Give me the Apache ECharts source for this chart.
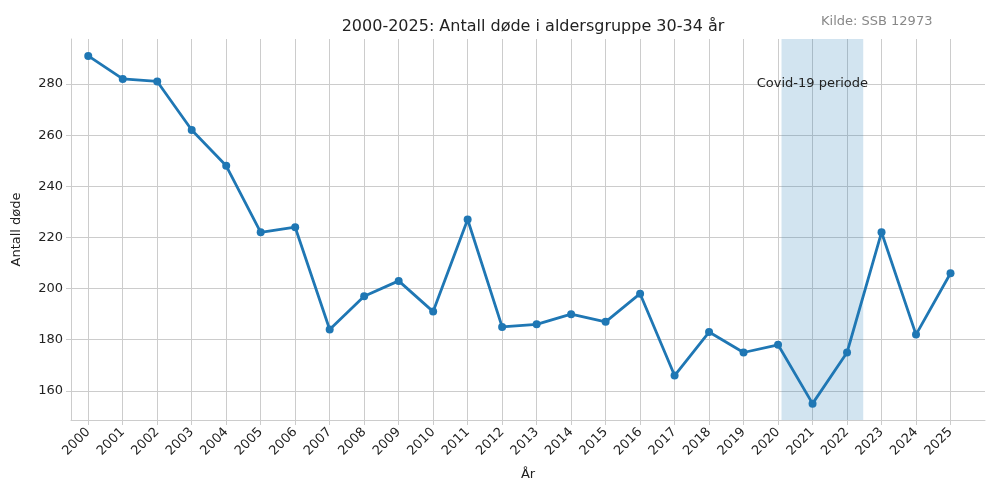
<!DOCTYPE html>
<html>
<head>
<meta charset="utf-8">
<script src="https://cdn.jsdelivr.net/npm/echarts@6/dist/echarts.min.js"></script>
<style>html,body{margin:0;padding:0;background:#fff}#chart{width:1000px;height:500px}</style>
</head>
<body>
<div id="chart"></div>
<script>
const years = [2000, 2001, 2002, 2003, 2004, 2005, 2006, 2007, 2008, 2009, 2010, 2011, 2012,
  2013, 2014, 2015, 2016, 2017, 2018, 2019, 2020, 2021, 2022, 2023, 2024, 2025];
const deaths = [291, 282, 281, 262, 248, 222, 224, 184, 197, 203, 191, 227, 185,
  186, 190, 187, 198, 166, 183, 175, 178, 155, 175, 222, 182, 206];
const yTicks = [160, 180, 200, 220, 240, 260, 280];
const covidSpan = [2020.1, 2022.47];

const font = 'DejaVu Sans';
const chart = echarts.init(document.getElementById('chart'));
chart.setOption({
  animation: false,
  textStyle: { fontFamily: font },
  title: {
    text: '2000-2025: Antall døde i aldersgruppe 30-34 år',
    left: 528, top: 14, textAlign: 'center',
    textStyle: { fontSize: 16, fontWeight: 'normal', color: '#222', fontFamily: font },
  },
  graphic: [{
    type: 'text', left: 821, top: 15,
    style: { text: 'Kilde: SSB 12973', fill: '#888', fontSize: 13, fontFamily: font },
  }],
  grid: { left: 71, right: 15, top: 39, bottom: 80 },
  xAxis: {
    type: 'value', min: 1999.5, max: 2026,
    name: 'År', nameLocation: 'middle', nameGap: 48,
    nameTextStyle: { fontSize: 13, color: '#222' },
    axisLine: { lineStyle: { color: '#ccc' } },
    axisTick: { show: true, customValues: years, lineStyle: { color: '#ccc' } },
    axisLabel: { customValues: years, rotate: 45, fontSize: 13, color: '#222', margin: 10,
      formatter: v => String(v) },
    splitLine: { show: true, lineStyle: { color: '#ccc' } },
  },
  yAxis: {
    type: 'value', min: 148.6, max: 297.6,
    name: 'Antall døde', nameLocation: 'middle', nameGap: 48,
    nameTextStyle: { fontSize: 13, color: '#222' },
    axisLine: { show: true, lineStyle: { color: '#ccc' } },
    axisTick: { show: true, customValues: yTicks, lineStyle: { color: '#ccc' } },
    axisLabel: { customValues: yTicks, fontSize: 13, color: '#222' },
    splitLine: { show: true, lineStyle: { color: '#ccc' } },
  },
  series: [{
    type: 'line',
    data: years.map((y, i) => [y, deaths[i]]),
    lineStyle: { color: '#1f77b4', width: 2.8 },
    itemStyle: { color: '#1f77b4' },
    symbol: 'circle', symbolSize: 8,
    markArea: {
      silent: true,
      itemStyle: { color: 'rgba(31,119,180,0.2)' },
      label: {
        show: true, position: 'insideTop', distance: 38, offset: [-10, 0],
        formatter: 'Covid-19 periode', color: '#222', fontSize: 13, fontFamily: font,
      },
      data: [[{ xAxis: covidSpan[0] }, { xAxis: covidSpan[1] }]],
    },
  }],
});
</script>
</body>
</html>
